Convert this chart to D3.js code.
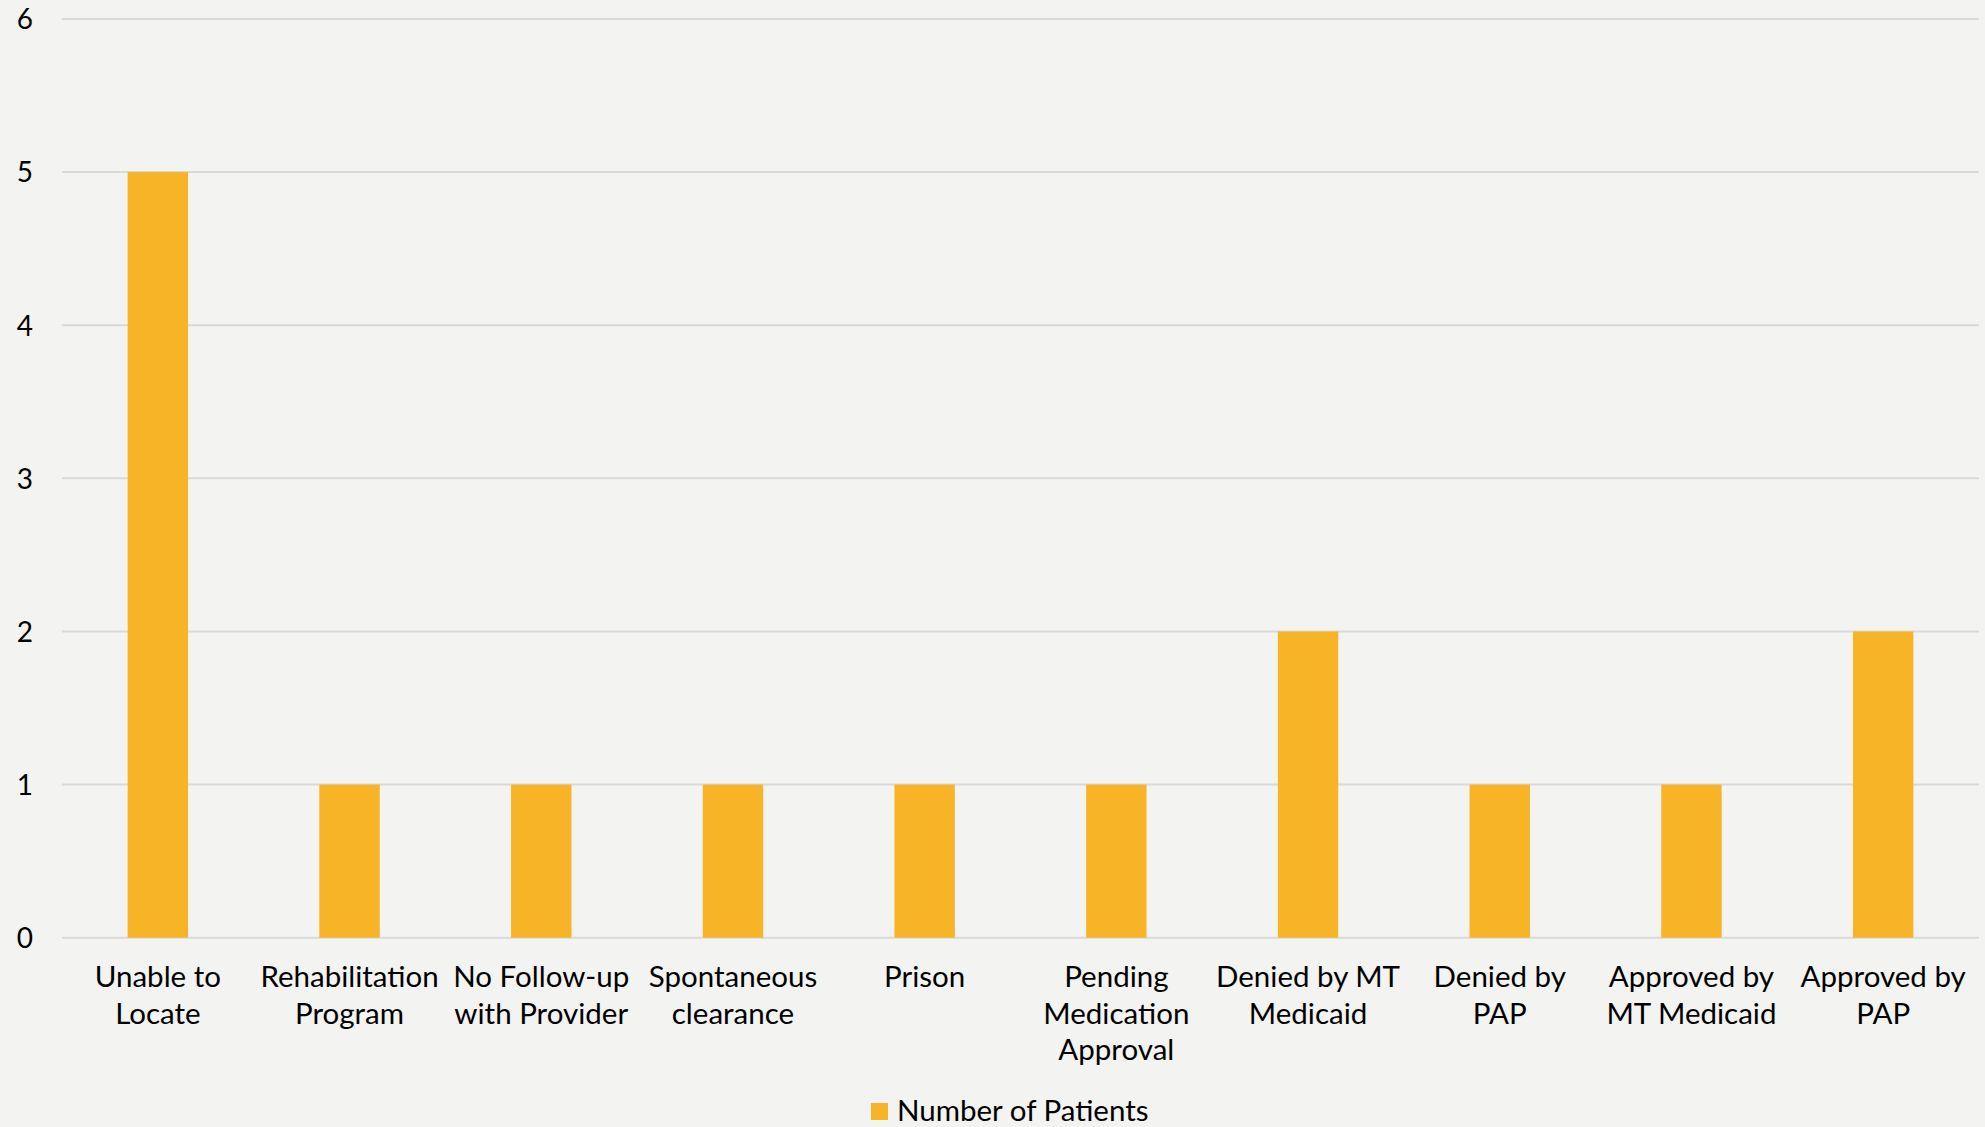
<!DOCTYPE html>
<html><head><meta charset="utf-8">
<script src="https://cdn.jsdelivr.net/npm/d3@7"></script>
<style>
html,body{margin:0;padding:0;background:#f3f3f2;}
svg{display:block;}
text{font-family:Lato,"Open Sans",sans-serif;fill:#000;}
</style></head>
<body>
<svg id="chart" width="1985" height="1127"></svg>
<script>
const categories = ["Unable to\nLocate","Rehabilitation\nProgram","No Follow-up\nwith Provider","Spontaneous\nclearance","Prison","Pending\nMedication\nApproval","Denied by MT\nMedicaid","Denied by\nPAP","Approved by\nMT Medicaid","Approved by\nPAP"];
const values = [5,1,1,1,1,1,2,1,1,2];
const yTicks = [0,1,2,3,4,5,6];
const seriesName = "Number of Patients";

const W = 1985, H = 1127;
const m = {left:62, right:6, top:19, bottom:190};
const svg = d3.select("#chart");
svg.append("rect").attr("width",W).attr("height",H).attr("fill","#f3f3f2");

const x = d3.scaleBand().domain(d3.range(categories.length))
  .range([m.left, W - m.right]).paddingInner(0.685).paddingOuter(0.3425);
const y = d3.scaleLinear().domain([0,6]).range([H - m.bottom + 0.7, m.top]);

// gridlines
svg.append("g").selectAll("line").data(yTicks).join("line")
  .attr("x1", m.left).attr("x2", W - m.right)
  .attr("y1", d => y(d)).attr("y2", d => y(d))
  .attr("stroke","#d9d9d9").attr("stroke-width",2);

// y labels
const yAxis = d3.axisLeft(y).tickValues(yTicks).tickSize(0).tickPadding(0).tickFormat(d3.format("d"));
const ya = svg.append("g").attr("transform","translate(33,0)").call(yAxis);
ya.select(".domain").remove();
ya.selectAll("text").attr("font-size",28).attr("font-family","Lato,sans-serif").attr("fill","#000").attr("dy","0.35em");

// bars
svg.append("g").selectAll("rect").data(values).join("rect")
  .attr("x",(d,i)=>x(i)).attr("width",x.bandwidth())
  .attr("y",d=>y(d)).attr("height",d=>y(0)-y(d))
  .attr("fill","#f6b426");

// x labels
const xl = svg.append("g");
categories.forEach((c,i)=>{
  const lines = c.split("\n");
  const t = xl.append("text").attr("text-anchor","middle").attr("font-size",29.5)
    .attr("x", x(i) + x.bandwidth()/2).attr("y", 987);
  lines.forEach((ln,k)=>{
    t.append("tspan").attr("x", x(i) + x.bandwidth()/2).attr("y", 987 + k*36.7).text(ln);
  });
});

// legend
const lg = svg.append("g");
lg.append("rect").attr("x",871).attr("y",1103).attr("width",17).attr("height",17).attr("fill","#f6b426");
lg.append("text").attr("x",897).attr("y",1121).attr("font-size",29.5).text(seriesName);
</script>
</body></html>
